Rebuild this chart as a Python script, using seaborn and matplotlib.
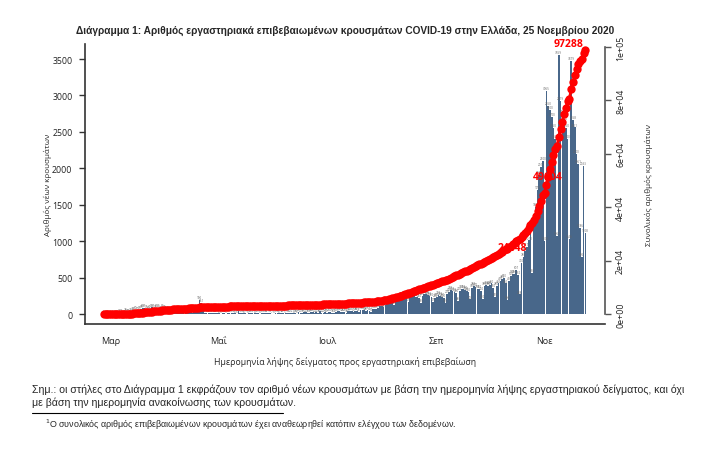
import numpy as np
import pandas as pd
import matplotlib
matplotlib.use("Agg")
import matplotlib.pyplot as plt
import seaborn as sns

sns.set_style("white")
plt.rcParams['font.family'] = ['Open Sans', 'DejaVu Sans']

# daily new cases by sample date, 26 Feb - 24 Nov 2020
feb = [1, 2, 0, 1]
mar = [2, 0, 3, 1, 6, 14, 15, 3, 28, 16,
       20, 25, 40, 45, 60, 50, 55, 65, 80, 85,
       75, 60, 70, 90, 85, 75, 85, 80, 60, 80, 70]
apr = [55, 60, 50, 45, 40, 55, 60, 50, 45, 40,
       30, 25, 35, 30, 25, 20, 30, 40, 75, 190,
       151, 40, 20, 15, 18, 10, 15, 12, 20, 10]
may = [8, 6, 10, 12, 5, 9, 15, 10, 12, 8, 6, 35, 10, 14, 8, 9,
       6, 12, 15, 10, 8, 12, 9, 6, 10, 14, 18, 12, 9, 11, 7]
jun = [6, 10, 15, 8, 12, 20, 5, 9, 14, 10, 12, 8, 18, 6, 25,
       20, 15, 30, 22, 18, 10, 28, 25, 20, 22, 18, 35, 12, 20, 25]
jul = [20, 25, 30, 18, 12, 30, 35, 40, 30, 28, 25, 18, 35, 40, 45, 30,
       38, 42, 25, 55, 60, 50, 48, 55, 40, 30, 65, 70, 75, 80, 110]
aug = [110, 90, 120, 150, 160, 170, 180, 120, 200,
       190, 230, 250, 240, 260, 220, 170,
       230, 260, 250, 240, 230, 220, 150,
       250, 270, 280, 260, 250, 230, 170, 220]
sep = [240, 260, 250, 230, 220, 150,
       270, 300, 330, 320, 300, 290, 180,
       320, 350, 340, 330, 320, 300, 200,
       360, 380, 370, 350, 340, 320, 210,
       380, 400, 390]
oct_ = [400, 420, 360, 230,
        380, 420, 450, 480, 500, 420, 190,
        450, 520, 545, 556, 607, 532, 268,
        700, 780, 860, 917, 1010, 1156, 560,
        1250, 1465, 1700, 1906, 2016, 2100]
nov = [1008,
       3065, 2850, 2800, 2700, 2550, 2400, 1067,
       3559, 2919, 2750, 2650, 2550, 2400, 1026,
       3479, 2658, 2561, 2200, 2061, 1186, 786,
       2033, 1108]

month_labels = ['Μαρ', 'Μαΐ', 'Ιουλ', 'Σεπ', 'Νοε']
month_starts = ['2020-03-01', '2020-05-01', '2020-07-01', '2020-09-01', '2020-11-01']
marked_totals = [24448, 49604, 97288]

daily = feb + mar + apr + may + jun + jul + aug + sep + oct_ + nov
dates = pd.date_range('2020-02-26', periods=len(daily), freq='D')
df = pd.DataFrame({'day': (dates - dates[0]).days, 'cases': daily})
df['total'] = df['cases'].cumsum()

W, H = 721, 452
fig = plt.figure(figsize=(W / 100, H / 100), dpi=100)
ax = fig.add_axes([85 / W, 1 - 325 / H, 520 / W, 280 / H])

sns.barplot(data=df, x='day', y='cases', native_scale=True, color='#48678a',
            saturation=1, width=0.95, errorbar=None, linewidth=0, ax=ax)

# tiny value labels over every bar
for d, c in zip(df['day'], df['cases']):
    ax.text(d, c + 12, str(c), fontsize=2.2, ha='center', va='bottom',
            color='#666666')

ax.set_xlim(-10.7, 283.1)
ax.set_ylim(-137, 3706)
ax.set_yticks(range(0, 3501, 500))
ax.set_yticklabels([str(v) for v in range(0, 3501, 500)], fontsize=6.3)
tick_days = [(pd.Timestamp(m) - dates[0]).days for m in month_starts]
ax.set_xticks(tick_days)
ax.set_xticklabels(month_labels, fontsize=6.5)
ax.tick_params(axis='both', direction='out', length=4, width=1, color='#333333',
               colors='#222222', pad=5)
ax.set_xlabel('Ημερομηνία λήψης δείγματος προς εργαστηριακή επιβεβαίωση',
              fontsize=6.3, labelpad=8)
ax.set_ylabel('Αριθμός νέων κρουσμάτων', fontsize=5.8, labelpad=0)
for s in ['top', 'right']:
    ax.spines[s].set_visible(False)
for s in ['left', 'bottom']:
    ax.spines[s].set_color('#333333')
    ax.spines[s].set_linewidth(1.2)

# cumulative total on second axis
ax2 = ax.twinx()
sns.lineplot(data=df, x='day', y='total', ax=ax2, color='red', linewidth=2,
             marker='o', markersize=6, markeredgewidth=0, markeredgecolor='red')
ax2.set_ylim(-3745, 101124)
ax2.set_yticks(range(0, 100001, 20000))
ax2.set_yticklabels(['0e+00', '2e+04', '4e+04', '6e+04', '8e+04', '1e+05'],
                    fontsize=6.3, rotation=90, va='center')
ax2.tick_params(axis='y', direction='out', length=4, width=1, color='#555555',
                colors='#222222', pad=4)
ax2.set_ylabel('Συνολικός αριθμός κρουσμάτων', fontsize=5.8, labelpad=14)
ax2.set_xlabel('')
for s in ['top', 'left', 'bottom']:
    ax2.spines[s].set_visible(False)
ax2.spines['right'].set_bounds(0, 100000)
ax2.spines['right'].set_color('#555555')
ax2.spines['right'].set_linewidth(1.2)

totals = df['total'].to_numpy()
for i, v in enumerate(marked_totals):
    idx = min(int(np.searchsorted(totals, v)), len(totals) - 1)
    xd, yv = df['day'].iloc[idx], totals[idx]
    if i == 0:
        ax2.text(xd + 11, yv + 300, str(v), color='red', fontsize=7.5,
                 fontweight='bold', ha='right', va='center')
    elif i == 1:
        ax2.text(xd, yv, str(v), color='red', fontsize=7.5,
                 fontweight='bold', ha='center', va='center')
    else:
        ax2.text(xd, yv + 1500, str(v), color='red', fontsize=7.5,
                 fontweight='bold', ha='right', va='bottom')

narrow = ['Liberation Sans', 'DejaVu Sans']
fig.text(0.479, 1 - 31 / H,
         'Διάγραμμα 1: Αριθμός εργαστηριακά επιβεβαιωμένων κρουσμάτων COVID-19 '
         'στην Ελλάδα, 25 Νοεμβρίου 2020',
         ha='center', va='center', fontsize=7.3, fontweight='bold', family=narrow)

fig.text(32 / W, 1 - 390 / H,
         'Σημ.: οι στήλες στο Διάγραμμα 1 εκφράζουν τον αριθμό νέων κρουσμάτων '
         'με βάση την ημερομηνία λήψης εργαστηριακού δείγματος, και όχι',
         ha='left', va='center', fontsize=7.6, family=narrow)
fig.text(32 / W, 1 - 403 / H,
         'με βάση την ημερομηνία ανακοίνωσης των κρουσμάτων.',
         ha='left', va='center', fontsize=7.6, family=narrow)
fig.add_artist(plt.Line2D([32 / W, 283 / W], [1 - 414 / H, 1 - 414 / H],
                          color='black', linewidth=0.8))
fig.text(45 / W, 1 - 425 / H,
         r'$^{1}$Ο συνολικός αριθμός επιβεβαιωμένων κρουσμάτων έχει '
         'αναθεωρηθεί κατόπιν ελέγχου των δεδομένων.',
         ha='left', va='center', fontsize=6.4, family=narrow)

fig.savefig('out.png', dpi=100)
